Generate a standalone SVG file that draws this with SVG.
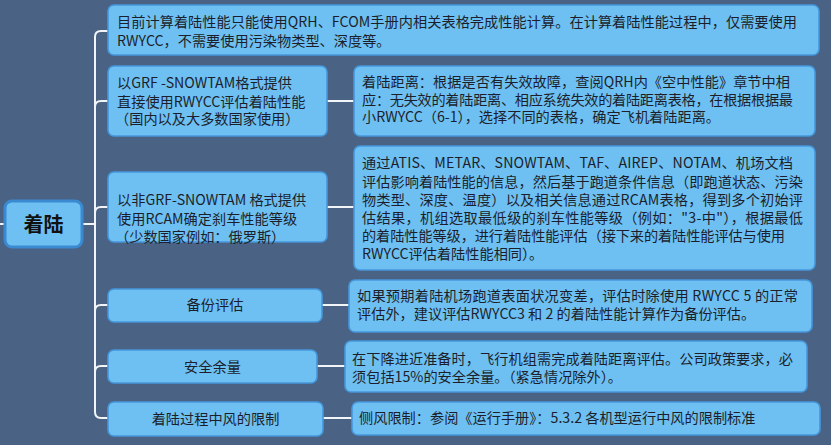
<svg xmlns="http://www.w3.org/2000/svg" width="831" height="445" viewBox="0 0 831 445">
<style>
.bg{fill:#4a6283}
.box{fill:#6ec0f2;stroke:#4597dc;stroke-width:1.6}
.root{fill:#6ec0f2;stroke:#3a8ad2;stroke-width:3}
.t{font-family:"Noto Sans CJK SC","Noto Sans",sans-serif;font-size:14.2px;fill:#1c1f2b}
.c{text-anchor:middle}
.rt{font-family:"Noto Sans CJK SC","Noto Sans",sans-serif;font-size:20px;font-weight:bold;fill:#111;text-anchor:middle}
.ln{fill:none;stroke:#f2f5f8;stroke-width:2}
</style>
<rect class="bg" x="0" y="0" width="831" height="445"/>
<g id="connectors">
<path class="ln" d="M0,224 H5"/>
<path class="ln" d="M82,224 H95"/>
<path class="ln" d="M108,31 H101 Q95,31 95,37 V412 Q95,418 101,418 H108"/>
<path class="ln" d="M95,107 Q95,101 101,101 H108"/>
<path class="ln" d="M95,213 Q95,207 101,207 H108"/>
<path class="ln" d="M95,311 Q95,305 101,305 H108"/>
<path class="ln" d="M95,372 Q95,366 101,366 H108"/>
<path class="ln" d="M327,101 H354"/>
<path class="ln" d="M327,207 H354"/>
<path class="ln" d="M322,305 H349"/>
<path class="ln" d="M317,366 H345"/>
<path class="ln" d="M323,418 H352"/>
</g>
<g id="root">
<rect class="root" x="5" y="201" width="77" height="46" rx="7"/>
<text class="rt" x="43.5" y="231.5">着陆</text>
</g>
<g id="n1">
<rect class="box" x="108" y="5" width="711" height="50" rx="6"/>
<text class="t"><tspan x="117" y="27" textLength="680" lengthAdjust="spacing">目前计算着陆性能只能使用QRH、FCOM手册内相关表格完成性能计算。在计算着陆性能过程中，仅需要使用</tspan><tspan x="117" y="46">RWYCC，不需要使用污染物类型、深度等。</tspan></text>
</g>
<g id="n2">
<rect class="box" x="108" y="66" width="219" height="70" rx="6"/>
<text class="t"><tspan x="117" y="88">以GRF -SNOWTAM格式提供</tspan><tspan x="117" y="107">直接使用RWYCC评估着陆性能</tspan><tspan x="115" y="124">（国内以及大多数国家使用）</tspan></text>
</g>
<g id="n2d">
<rect class="box" x="354" y="66" width="461" height="70" rx="6"/>
<text class="t"><tspan x="362" y="87" textLength="428" lengthAdjust="spacing">着陆距离：根据是否有失效故障，查阅QRH内《空中性能》章节中相</tspan><tspan x="362" y="105" textLength="431" lengthAdjust="spacing">应：无失效的着陆距离、相应系统失效的着陆距离表格，在根据根据最</tspan><tspan x="362" y="122">小RWYCC（6-1），选择不同的表格，确定飞机着陆距离。</tspan></text>
</g>
<g id="n3">
<rect class="box" x="108" y="172" width="219" height="70" rx="6"/>
<text class="t"><tspan x="117" y="205">以非GRF-SNOWTAM 格式提供</tspan><tspan x="117" y="224">使用RCAM确定刹车性能等级</tspan><tspan x="115" y="242">（少数国家例如：俄罗斯）</tspan></text>
</g>
<g id="n3d">
<rect class="box" x="354" y="146" width="461" height="124" rx="6"/>
<text class="t"><tspan x="362" y="168" textLength="431" lengthAdjust="spacing">通过ATIS、METAR、SNOWTAM、TAF、AIREP、NOTAM、机场文档</tspan><tspan x="362" y="187" textLength="441" lengthAdjust="spacing">评估影响着陆性能的信息，然后基于跑道条件信息（即跑道状态、污染</tspan><tspan x="362" y="205" textLength="441" lengthAdjust="spacing">物类型、深度、温度）以及相关信息通过RCAM表格，得到多个初始评</tspan><tspan x="362" y="223" textLength="441" lengthAdjust="spacing">估结果，机组选取最低级的刹车性能等级（例如："3-中"），根据最低</tspan><tspan x="362" y="241" textLength="423" lengthAdjust="spacing">的着陆性能等级，进行着陆性能评估（接下来的着陆性能评估与使用</tspan><tspan x="362" y="259">RWYCC评估着陆性能相同）。</tspan></text>
</g>
<g id="n4">
<rect class="box" x="108" y="289" width="214" height="33" rx="6"/>
<text class="t c" x="215" y="310">备份评估</text>
</g>
<g id="n4d">
<rect class="box" x="349" y="280" width="463" height="52" rx="6"/>
<text class="t"><tspan x="357" y="301" textLength="441" lengthAdjust="spacing">如果预期着陆机场跑道表面状况变差，评估时除使用 RWYCC 5 的正常</tspan><tspan x="357" y="319">评估外，建议评估RWYCC3 和 2 的着陆性能计算作为备份评估。</tspan></text>
</g>
<g id="n5">
<rect class="box" x="108" y="350" width="209" height="33" rx="6"/>
<text class="t c" x="212.5" y="372">安全余量</text>
</g>
<g id="n5d">
<rect class="box" x="345" y="341" width="462" height="51" rx="6"/>
<text class="t"><tspan x="352" y="364" textLength="441" lengthAdjust="spacing">在下降进近准备时，飞行机组需完成着陆距离评估。公司政策要求，必</tspan><tspan x="352" y="382">须包括15%的安全余量。（紧急情况除外）。</tspan></text>
</g>
<g id="n6">
<rect class="box" x="108" y="402" width="215" height="34" rx="6"/>
<text class="t c" x="215.5" y="424">着陆过程中风的限制</text>
</g>
<g id="n6d">
<rect class="box" x="352" y="402" width="468" height="33" rx="6"/>
<text class="t" x="359" y="423">侧风限制：参阅《运行手册》：5.3.2 各机型运行中风的限制标准</text>
</g>
</svg>
